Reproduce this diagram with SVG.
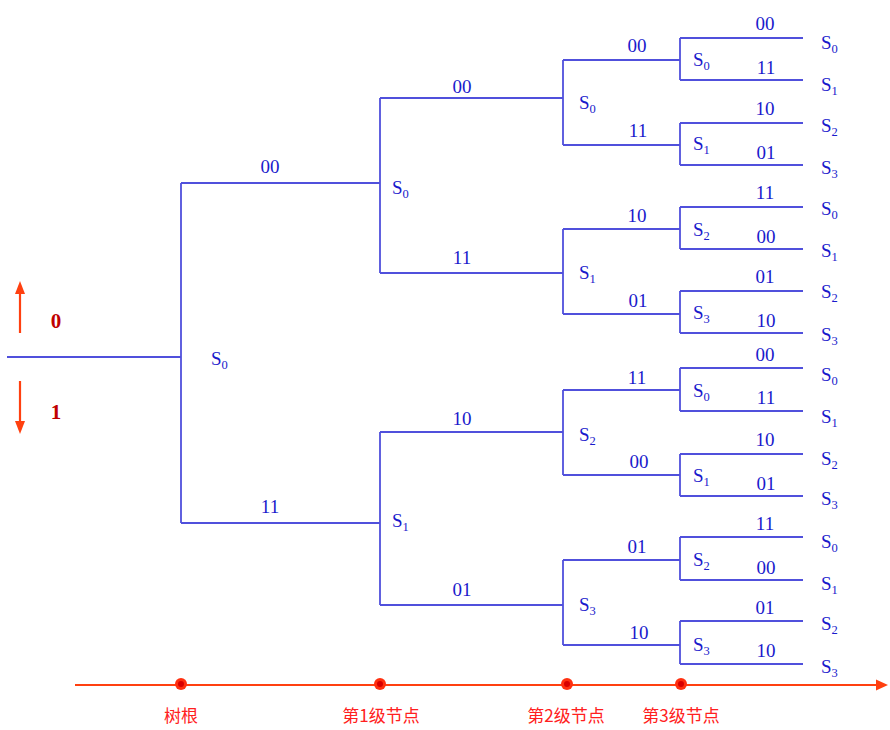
<svg xmlns="http://www.w3.org/2000/svg" width="890" height="730" viewBox="0 0 890 730">
<style>
.ln{stroke:#5050dc;stroke-width:1.8;fill:none}
.t{font-family:"Liberation Serif","Times New Roman",serif;font-size:19px;fill:#1a1acc}
.c{text-anchor:middle}
.sub{font-size:12.5px}
.red{font-family:"Liberation Serif",serif;font-size:21px;font-weight:bold;fill:#c00000;text-anchor:middle}
.cn{font-family:"Noto Sans CJK SC","Noto Sans",sans-serif;font-size:17px;fill:#ff2020;text-anchor:middle}
.ax{stroke:#ff4010;stroke-width:2;fill:none}
.dot{fill:#ff3010}
.dc{fill:#d80000}
</style>
<rect width="890" height="730" fill="#fff"/>
<g id="connectors">
<path class="ln" d="M7 357H181M181 183V523M181 183H380M181 523H380"/>
<path class="ln" d="M380 98V273M380 432V605M380 98H563M380 273H563M380 432H563M380 605H563"/>
<path class="ln" d="M563 60V145M563 229V314M563 390V475M563 560V645"/>
<path class="ln" d="M563 60H680M563 145H680M563 229H680M563 314H680M563 390H680M563 475H680M563 560H680M563 645H680"/>
<path class="ln" d="M680 38V80M680 123V165M680 207V249M680 291V333M680 368V411M680 454V496M680 537V580M680 621V664"/>
<path class="ln" d="M680 38H803M680 80H803M680 123H803M680 165H803M680 207H803M680 249H803M680 291H803M680 333H803M680 368H803M680 411H803M680 454H803M680 496H803M680 537H803M680 580H803M680 621H803M680 664H803"/>
</g>
<g id="legend">
<line x1="20" y1="333" x2="20" y2="292" stroke="#ff4010" stroke-width="2.2"/>
<polygon points="20,281 15,294 25,294" fill="#ff4010"/>
<line x1="20" y1="381" x2="20" y2="422" stroke="#ff4010" stroke-width="2.2"/>
<polygon points="20,434 15,421 25,421" fill="#ff4010"/>
<text class="red" x="56" y="328">0</text>
<text class="red" x="56" y="419">1</text>
</g>
<g id="root"><text class="t" x="211" y="365">S<tspan class="sub" dy="4">0</tspan></text></g>
<g id="level1">
<text class="t c" x="270" y="173">00</text>
<text class="t c" x="270" y="513">11</text>
<text class="t" x="392" y="194">S<tspan class="sub" dy="4">0</tspan></text>
<text class="t" x="392" y="527">S<tspan class="sub" dy="4">1</tspan></text>
</g>
<g id="level2">
<text class="t c" x="462" y="93">00</text>
<text class="t c" x="462" y="264">11</text>
<text class="t c" x="462" y="425">10</text>
<text class="t c" x="462" y="596">01</text>
<text class="t" x="579" y="109">S<tspan class="sub" dy="4">0</tspan></text>
<text class="t" x="579" y="279">S<tspan class="sub" dy="4">1</tspan></text>
<text class="t" x="579" y="441">S<tspan class="sub" dy="4">2</tspan></text>
<text class="t" x="579" y="611">S<tspan class="sub" dy="4">3</tspan></text>
</g>
<g id="level3">
<text class="t c" x="637" y="52">00</text>
<text class="t c" x="638" y="137">11</text>
<text class="t c" x="637" y="222">10</text>
<text class="t c" x="638" y="307">01</text>
<text class="t c" x="637" y="384">11</text>
<text class="t c" x="639" y="468">00</text>
<text class="t c" x="637" y="553">01</text>
<text class="t c" x="639" y="639">10</text>
<text class="t" x="693" y="66">S<tspan class="sub" dy="4">0</tspan></text>
<text class="t" x="693" y="150">S<tspan class="sub" dy="4">1</tspan></text>
<text class="t" x="693" y="236">S<tspan class="sub" dy="4">2</tspan></text>
<text class="t" x="693" y="319">S<tspan class="sub" dy="4">3</tspan></text>
<text class="t" x="693" y="397">S<tspan class="sub" dy="4">0</tspan></text>
<text class="t" x="693" y="482">S<tspan class="sub" dy="4">1</tspan></text>
<text class="t" x="693" y="566">S<tspan class="sub" dy="4">2</tspan></text>
<text class="t" x="693" y="651">S<tspan class="sub" dy="4">3</tspan></text>
</g>
<g id="level4">
<text class="t c" x="765" y="30">00</text>
<text class="t c" x="766" y="74">11</text>
<text class="t c" x="765" y="115">10</text>
<text class="t c" x="766" y="159">01</text>
<text class="t c" x="765" y="199">11</text>
<text class="t c" x="766" y="243">00</text>
<text class="t c" x="765" y="283">01</text>
<text class="t c" x="766" y="327">10</text>
<text class="t c" x="765" y="361">00</text>
<text class="t c" x="766" y="404">11</text>
<text class="t c" x="765" y="446">10</text>
<text class="t c" x="766" y="490">01</text>
<text class="t c" x="765" y="530">11</text>
<text class="t c" x="766" y="574">00</text>
<text class="t c" x="765" y="614">01</text>
<text class="t c" x="766" y="657">10</text>
</g>
<g id="leaves">
<text class="t" x="821" y="49">S<tspan class="sub" dy="4">0</tspan></text>
<text class="t" x="821" y="91">S<tspan class="sub" dy="4">1</tspan></text>
<text class="t" x="821" y="132">S<tspan class="sub" dy="4">2</tspan></text>
<text class="t" x="821" y="174">S<tspan class="sub" dy="4">3</tspan></text>
<text class="t" x="821" y="215">S<tspan class="sub" dy="4">0</tspan></text>
<text class="t" x="821" y="257">S<tspan class="sub" dy="4">1</tspan></text>
<text class="t" x="821" y="298">S<tspan class="sub" dy="4">2</tspan></text>
<text class="t" x="821" y="341">S<tspan class="sub" dy="4">3</tspan></text>
<text class="t" x="821" y="381">S<tspan class="sub" dy="4">0</tspan></text>
<text class="t" x="821" y="423">S<tspan class="sub" dy="4">1</tspan></text>
<text class="t" x="821" y="465">S<tspan class="sub" dy="4">2</tspan></text>
<text class="t" x="821" y="505">S<tspan class="sub" dy="4">3</tspan></text>
<text class="t" x="821" y="548">S<tspan class="sub" dy="4">0</tspan></text>
<text class="t" x="821" y="590">S<tspan class="sub" dy="4">1</tspan></text>
<text class="t" x="821" y="630">S<tspan class="sub" dy="4">2</tspan></text>
<text class="t" x="821" y="673">S<tspan class="sub" dy="4">3</tspan></text>
</g>
<g id="axis">
<line class="ax" x1="75" y1="685" x2="878" y2="685"/>
<polygon points="888,685 876,679.5 876,690.5" fill="#ff4010"/>
<circle class="dot" cx="181" cy="684" r="6"/><circle class="dc" cx="181" cy="684" r="3"/>
<circle class="dot" cx="380" cy="684" r="6"/><circle class="dc" cx="380" cy="684" r="3"/>
<circle class="dot" cx="567" cy="684" r="6"/><circle class="dc" cx="567" cy="684" r="3"/>
<circle class="dot" cx="681" cy="684" r="6"/><circle class="dc" cx="681" cy="684" r="3"/>
<text class="cn" x="181" y="722">树根</text>
<text class="cn" x="381" y="722">第1级节点</text>
<text class="cn" x="566" y="722">第2级节点</text>
<text class="cn" x="681" y="722">第3级节点</text>
</g>
</svg>
